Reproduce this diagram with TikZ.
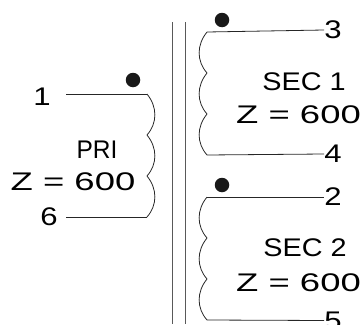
\documentclass[tikz,border=0pt]{standalone}
\usepackage{fontspec}
\setmainfont{Liberation Sans}
\tikzset{
  x=1pt,y=-1pt,
  wire/.style={draw=black!85,line width=0.8pt},
  core/.style={draw=black!65,line width=1pt},
  polarity/.style={circle,fill=black!90,inner sep=0pt,minimum size=14.5pt},
  lab/.style={inner sep=0pt,text=black,font=\fontsize{25.5}{25.5}\selectfont},
  pin/.style={lab,xscale=1.22},
  imp/.style={lab,xscale=1.43},
  sec/.style={lab,xscale=1.13},
  prim/.style={lab,xscale=0.96},
}
\newcommand{\coilR}[2]{ (#1) .. controls ([shift={(10.5,13)}]#1) and ([shift={(10.5,29)}]#1) .. (#2) }
\newcommand{\coilL}[2]{ (#1) .. controls ([shift={(-10.5,13)}]#1) and ([shift={(-10.5,29)}]#1) .. (#2) }
\begin{document}
\begin{tikzpicture}
\useasboundingbox (0,0) rectangle (364,324);
\clip (0,0) rectangle (364,324);
% core
\coordinate (c1t) at (172,22); \coordinate (c1b) at (172,324);
\coordinate (c2t) at (185.5,22); \coordinate (c2b) at (185.5,324);
\draw[core] (c1t) -- (c1b);
\draw[core] (c2t) -- (c2b);
% primary
\node[pin] (n1) at (42,97) {1};
\node[pin] (n6) at (49,217) {6};
\node[prim] (pri) at (97,150) {PRI};
\node[imp] (zp) at (73,181.5) {Z = 600};
\node[polarity] (dp) at (133,80) {};
\coordinate (p0s) at (66,94); \coordinate (p3s) at (66,217);
\coordinate (p0) at (147,94); \coordinate (p1) at (147,135);
\coordinate (p2) at (147,176); \coordinate (p3) at (147,217);
\draw[wire] (p0s) -- (p0);
\draw[wire] (p3s) -- (p3);
\draw[wire] \coilR{p0}{p1} \coilR{p1}{p2} \coilR{p2}{p3};
% secondary 1
\node[pin] (n3) at (333,30) {3};
\node[pin] (n4) at (333,154) {4};
\node[sec] (s1) at (304,82) {SEC 1};
\node[imp] (z1) at (298.5,115) {Z = 600};
\node[polarity] (d1) at (222,20) {};
\coordinate (a0) at (207,32); \coordinate (a1) at (207,73);
\coordinate (a2) at (207,114); \coordinate (a3) at (207,155);
\draw[wire] (a0) -- (n3.west);
\draw[wire] (a3) -- (n4.west);
\draw[wire] \coilL{a0}{a1} \coilL{a1}{a2} \coilL{a2}{a3};
% secondary 2
\node[pin] (n2) at (333,197) {2};
\node[pin] (n5) at (333,320.5) {5};
\node[sec] (s2) at (305,248) {SEC 2};
\node[imp] (z2) at (298.5,283) {Z = 600};
\node[polarity] (d2) at (222,185) {};
\coordinate (b0) at (207,197); \coordinate (b1) at (207,238);
\coordinate (b2) at (207,279); \coordinate (b3) at (207,320);
\draw[wire] (b0) -- (n2.west);
\draw[wire] (b3) -- (n5.west);
\draw[wire] \coilL{b0}{b1} \coilL{b1}{b2} \coilL{b2}{b3};
\end{tikzpicture}
\end{document}
